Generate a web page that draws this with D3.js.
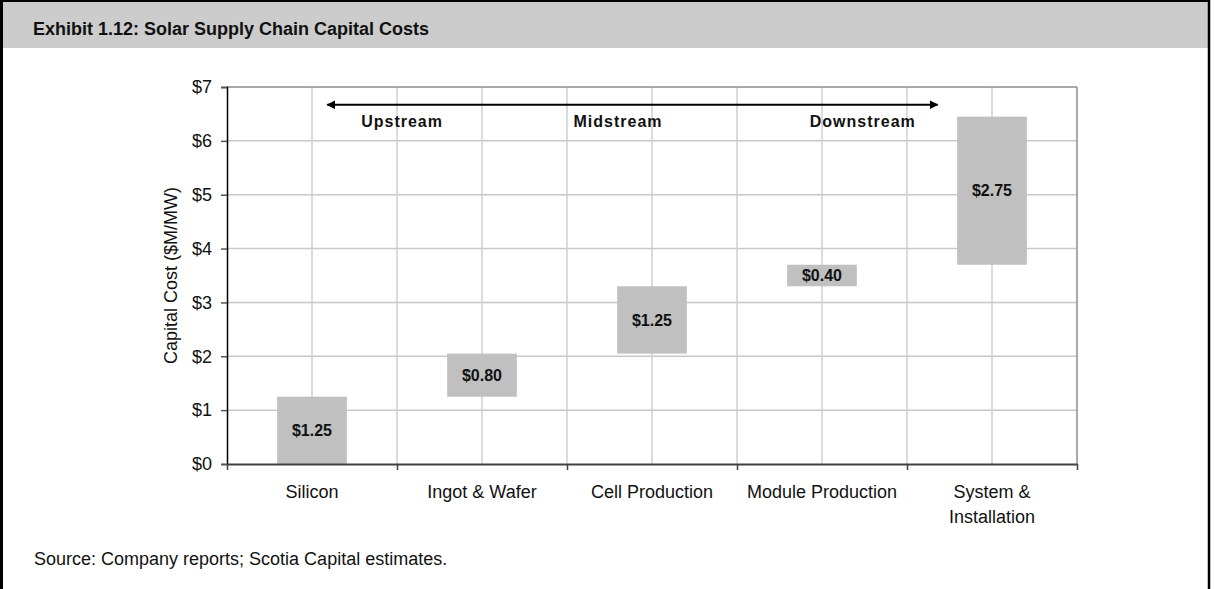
<!DOCTYPE html>
<html>
<head>
<meta charset="utf-8">
<script src="https://cdn.jsdelivr.net/npm/d3@7"></script>
<style>
  body { margin: 0; background: #fff; }
  svg { display: block; font-family: Arial, "Liberation Sans", sans-serif; }
</style>
</head>
<body>
<div id="chart"></div>
<script>
// chart data
const categories = ["Silicon", "Ingot & Wafer", "Cell Production", "Module Production", "System & Installation"];
const catLines = [["Silicon"], ["Ingot & Wafer"], ["Cell Production"], ["Module Production"], ["System &", "Installation"]];
const barBase = [0, 1.25, 2.05, 3.30, 3.70];
const barValue = [1.25, 0.80, 1.25, 0.40, 2.75];
const barLabels = ["$1.25", "$0.80", "$1.25", "$0.40", "$2.75"];
const yTicks = [0, 1, 2, 3, 4, 5, 6, 7];

// supply chain annotation, in category units / dollars
const streamNames = ["Upstream", "Midstream", "Downstream"];
const streamPos = [1.03, 2.30, 3.74];
const arrowFrom = 0.59, arrowTo = 4.18, arrowY = 6.67, streamY = 6.25;

const W = 1214, H = 589;
const plotL = 227, plotR = 1077, plotT = 87, plotB = 464;

const svg = d3.select("#chart").append("svg")
  .attr("width", W)
  .attr("height", H);

svg.append("rect").attr("width", W).attr("height", H).attr("fill", "#fff");

// header bar + frame
svg.append("rect")
  .attr("x", 0).attr("y", 0)
  .attr("width", 1209).attr("height", 48)
  .attr("fill", "#cccccc");
svg.append("line").attr("x1", 0).attr("x2", 1210).attr("y1", 1).attr("y2", 1)
  .attr("stroke", "#000").attr("stroke-width", 2);
svg.append("line").attr("x1", 1.5).attr("x2", 1.5).attr("y1", 0).attr("y2", H)
  .attr("stroke", "#000").attr("stroke-width", 3);
svg.append("line").attr("x1", 1209).attr("x2", 1209).attr("y1", 0).attr("y2", H)
  .attr("stroke", "#000").attr("stroke-width", 2.5);

svg.append("text")
  .attr("x", 33).attr("y", 35)
  .attr("font-size", "18px")
  .attr("font-weight", "bold")
  .attr("fill", "#111")
  .text("Exhibit 1.12: Solar Supply Chain Capital Costs");

const x = d3.scaleBand().domain(categories).range([plotL, plotR]).padding(0);
const xl = d3.scaleLinear().domain([0, categories.length]).range([plotL, plotR]);
const y = d3.scaleLinear().domain([0, 7]).range([plotB, plotT]);

// gridlines
const grid = svg.append("g");
grid.selectAll(".hg").data(yTicks.filter(d => d > 0 && d < 7)).join("line")
  .attr("x1", plotL).attr("x2", plotR)
  .attr("y1", d => y(d)).attr("y2", d => y(d))
  .attr("stroke", "#c8c8c8").attr("stroke-width", 1.5);
grid.selectAll(".vg").data(d3.range(1, categories.length * 2)).join("line")
  .attr("x1", d => xl(d / 2)).attr("x2", d => xl(d / 2))
  .attr("y1", plotT).attr("y2", plotB)
  .attr("stroke", "#cfcfcf").attr("stroke-width", 1.5);

// plot border (top / right)
svg.append("line").attr("x1", plotL).attr("x2", plotR).attr("y1", plotT).attr("y2", plotT)
  .attr("stroke", "#8c8c8c").attr("stroke-width", 1.5);
svg.append("line").attr("x1", plotR).attr("x2", plotR).attr("y1", plotT).attr("y2", plotB)
  .attr("stroke", "#8c8c8c").attr("stroke-width", 1.5);

// floating bars
const barW = x.bandwidth() * 0.41;
svg.append("g").selectAll("rect").data(categories).join("rect")
  .attr("x", d => x(d) + (x.bandwidth() - barW) / 2)
  .attr("width", barW)
  .attr("y", (d, i) => y(barBase[i] + barValue[i]))
  .attr("height", (d, i) => y(barBase[i]) - y(barBase[i] + barValue[i]))
  .attr("fill", "#c0c0c0");

svg.append("g").selectAll("text").data(categories).join("text")
  .attr("x", d => x(d) + x.bandwidth() / 2)
  .attr("y", (d, i) => y(barBase[i] + barValue[i] / 2))
  .attr("dy", "0.36em")
  .attr("text-anchor", "middle")
  .attr("font-size", "16px")
  .attr("font-weight", "bold")
  .attr("fill", "#111")
  .text((d, i) => barLabels[i]);

// y axis
const yAxis = svg.append("g")
  .attr("transform", `translate(${plotL},0)`)
  .call(d3.axisLeft(y).tickValues(yTicks).tickFormat(d => "$" + d).tickSize(6).tickPadding(9));
yAxis.select(".domain").attr("stroke", "#000").attr("stroke-width", 1.5);
yAxis.selectAll(".tick line").attr("stroke", "#555").attr("stroke-width", 1.5);
yAxis.selectAll(".tick text").attr("font-size", "18px").attr("fill", "#111")
  .attr("font-family", "Arial, 'Liberation Sans', sans-serif");

svg.append("text")
  .attr("transform", `translate(177,${(plotT + plotB) / 2}) rotate(-90)`)
  .attr("text-anchor", "middle")
  .attr("font-size", "18px")
  .attr("fill", "#111")
  .text("Capital Cost ($M/MW)");

// x axis
const xAxis = svg.append("g")
  .attr("transform", `translate(0,${plotB})`)
  .call(d3.axisBottom(xl).tickValues(d3.range(0, categories.length + 1)).tickFormat("").tickSize(6).tickSizeOuter(0));
xAxis.select(".domain").attr("stroke", "#404040").attr("stroke-width", 2);
xAxis.selectAll(".tick line").attr("stroke", "#404040").attr("stroke-width", 1.5);

const xLabels = svg.append("g").selectAll("text").data(categories).join("text")
  .attr("x", d => x(d) + x.bandwidth() / 2)
  .attr("y", plotB + 34)
  .attr("text-anchor", "middle")
  .attr("font-size", "18px")
  .attr("fill", "#111");
xLabels.each(function(d, i) {
  d3.select(this).selectAll("tspan").data(catLines[i]).join("tspan")
    .attr("x", x(d) + x.bandwidth() / 2)
    .attr("dy", (t, j) => j === 0 ? 0 : 25)
    .text(t => t);
});

// arrow annotation
const defs = svg.append("defs");
defs.append("marker").attr("id", "ah")
  .attr("viewBox", "0 0 10 10").attr("refX", 9).attr("refY", 5)
  .attr("markerWidth", 4.5).attr("markerHeight", 4.5)
  .attr("markerUnits", "strokeWidth")
  .attr("orient", "auto-start-reverse")
  .append("path").attr("d", "M0,0L10,5L0,10Z").attr("fill", "#000");

svg.append("line")
  .attr("x1", xl(arrowFrom)).attr("x2", xl(arrowTo))
  .attr("y1", y(arrowY)).attr("y2", y(arrowY))
  .attr("stroke", "#000").attr("stroke-width", 2)
  .attr("marker-start", "url(#ah)")
  .attr("marker-end", "url(#ah)");

svg.append("g").selectAll("text").data(streamNames).join("text")
  .attr("x", (d, i) => xl(streamPos[i]))
  .attr("y", y(streamY))
  .attr("text-anchor", "middle")
  .attr("font-size", "16px")
  .attr("font-weight", "bold")
  .attr("letter-spacing", "1px")
  .attr("fill", "#111")
  .text(d => d);

svg.append("text")
  .attr("x", 34).attr("y", 565)
  .attr("font-size", "18px")
  .attr("fill", "#111")
  .text("Source: Company reports; Scotia Capital estimates.");
</script>
</body>
</html>
